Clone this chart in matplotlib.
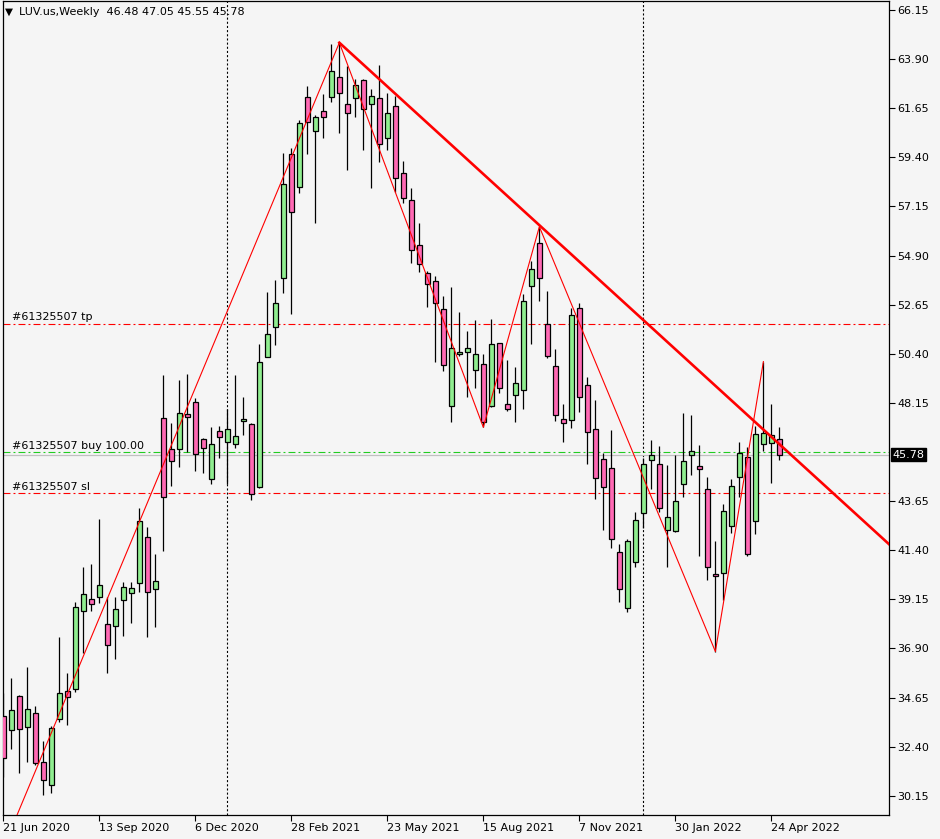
import matplotlib
matplotlib.use("Agg")
import matplotlib.pyplot as plt
from matplotlib.patches import Rectangle
import matplotlib.transforms as mtransforms

plt.rcParams['font.family'] = ['DejaVu Sans']
plt.rcParams['lines.scale_dashes'] = False

# weekly bars, LUV.us, starting 21 Jun 2020
opens = [33.81, 33.15, 34.73, 33.29, 33.93, 31.70, 30.64, 33.66, 34.95, 35.03,
         38.61, 39.17, 39.27, 38.01, 37.92, 39.11, 39.43, 39.92, 42.00, 39.61,
         47.45, 46.03, 46.03, 47.63, 48.18, 46.48, 44.65, 46.86, 46.37, 46.26,
         47.31, 47.19, 44.31, 50.27, 51.64, 53.86, 59.55, 58.03, 62.15, 60.62,
         61.52, 62.18, 63.07, 61.84, 62.13, 62.94, 61.86, 62.11, 60.30, 61.75,
         58.67, 57.45, 55.37, 54.09, 53.74, 52.44, 48.00, 50.38, 50.47, 49.66,
         49.92, 48.00, 50.88, 48.09, 48.50, 48.73, 53.51, 55.46, 51.75, 49.83,
         47.40, 47.35, 52.49, 48.96, 46.94, 45.57, 45.16, 41.31, 38.74, 40.85,
         43.09, 45.52, 45.34, 42.32, 42.27, 44.42, 45.75, 45.25, 44.19, 40.30,
         40.35, 42.50, 44.74, 45.66, 42.73, 46.26, 46.30, 46.48]
highs = [34.85, 35.56, 34.76, 36.07, 34.27, 32.66, 33.37, 37.44, 35.79, 39.05,
         40.65, 40.77, 42.83, 39.27, 39.27, 39.93, 39.93, 43.32, 42.45, 41.23,
         49.43, 47.22, 49.20, 49.48, 48.36, 46.53, 47.03, 47.09, 47.86, 49.43,
         48.44, 47.25, 50.85, 53.22, 53.78, 59.59, 59.81, 61.11, 62.67, 61.34,
         62.30, 64.59, 64.65, 63.58, 62.98, 62.98, 62.52, 63.63, 62.36, 62.21,
         59.23, 57.98, 56.41, 54.19, 53.97, 53.05, 53.47, 52.32, 51.45, 51.95,
         50.39, 52.00, 50.90, 50.12, 49.80, 53.14, 54.65, 56.22, 53.28, 50.62,
         48.10, 52.49, 52.74, 49.32, 48.28, 45.87, 46.91, 41.67, 41.92, 43.14,
         45.61, 46.45, 46.18, 45.31, 45.77, 47.70, 47.60, 46.22, 44.77, 41.83,
         43.51, 44.67, 46.35, 46.15, 47.09, 50.04, 48.10, 47.05]
lows = [31.00, 32.30, 31.21, 31.72, 31.56, 30.19, 30.27, 33.52, 33.41, 34.92,
        36.68, 38.63, 38.97, 35.77, 36.41, 37.47, 38.08, 39.50, 37.44, 37.90,
        41.38, 44.35, 45.23, 45.92, 45.05, 44.93, 44.44, 45.61, 44.44, 46.07,
        46.68, 43.70, 44.24, 50.24, 50.80, 53.20, 52.22, 57.78, 59.55, 56.41,
        60.30, 61.95, 60.53, 58.82, 61.23, 59.74, 58.01, 59.20, 59.74, 57.83,
        57.32, 54.57, 54.16, 52.56, 50.04, 49.63, 47.29, 50.31, 48.44, 48.85,
        47.03, 47.98, 48.62, 47.79, 47.29, 47.86, 50.84, 52.83, 50.22, 47.34,
        46.37, 47.02, 47.75, 45.34, 43.76, 42.34, 41.52, 39.05, 38.59, 40.65,
        42.43, 44.22, 43.17, 40.62, 42.22, 43.86, 44.86, 41.15, 40.04, 36.76,
        39.12, 42.21, 43.86, 41.15, 42.13, 45.95, 44.50, 45.55]
closes = [31.87, 34.07, 33.20, 34.12, 31.64, 30.86, 33.25, 34.85, 34.67, 38.79,
          39.40, 38.93, 39.81, 37.05, 38.70, 39.70, 39.66, 42.76, 39.50, 39.98,
          43.86, 45.48, 47.68, 47.52, 45.80, 46.07, 46.26, 46.60, 46.94, 46.62,
          47.41, 43.96, 50.01, 51.29, 52.71, 58.18, 56.91, 60.96, 61.03, 61.23,
          61.26, 63.36, 62.33, 61.45, 62.71, 61.60, 62.21, 60.00, 61.42, 58.47,
          57.52, 55.16, 54.50, 53.58, 52.74, 49.87, 50.65, 50.48, 50.65, 50.38,
          47.29, 50.84, 48.82, 47.86, 49.05, 52.81, 54.27, 53.86, 50.29, 47.58,
          47.22, 52.16, 48.41, 46.81, 44.70, 44.29, 41.90, 39.61, 41.81, 42.77,
          45.34, 45.75, 43.35, 42.91, 43.64, 45.48, 45.93, 45.12, 40.65, 40.21,
          43.19, 44.35, 45.84, 41.22, 46.71, 46.76, 46.68, 45.78]

date_ticks = [0, 12, 24, 36, 48, 60, 72, 84, 96]
date_labels = ["21 Jun 2020", "13 Sep 2020", "6 Dec 2020", "28 Feb 2021", "23 May 2021",
               "15 Aug 2021", "7 Nov 2021", "30 Jan 2022", "24 Apr 2022"]
year_breaks = [28, 80]
# 45.90 is covered by the current price box, so it is left out
price_ticks = [30.15, 32.40, 34.65, 36.90, 39.15, 41.40, 43.65, 48.15,
               50.40, 52.65, 54.90, 57.15, 59.40, 61.65, 63.90, 66.15]

# zigzag turning points (bar, price)
zz_bars = [-6, 42, 60, 67, 89, 95]
zz_prices = [22.49, 64.65, 47.03, 56.22, 36.76, 50.04]
# trend line through two highs
tl_bars = [42, 67]
tl_prices = [64.65, 56.29]

order_id = "#61325507"
tp_level = 51.77
buy_level = 45.89
sl_level = 44.01
last_price = 45.78

bg = "#f5f5f5"
bull = "#90ee90"
bear = "#ff69b4"

fig = plt.figure(figsize=(9.4, 8.39), dpi=100, facecolor=bg)
ax = fig.add_axes([2.5 / 940, 24 / 839, 886.5 / 940, 814 / 839], facecolor=bg)

ax.set_xlim(-0.1, 110.7)
ax.set_ylim(29.27, 66.56)

# grid separators (year starts)
for b in year_breaks:
    ax.axvline(b, color="black", lw=0.8, ls=(0, (1.5, 1.5)), zorder=1)

# order lines
dashdot = (0, (5, 2.2, 1.4, 2.2))
ax.axhline(last_price, color="#c0c0c0", lw=0.9, zorder=1)
ax.axhline(tp_level, color="red", lw=0.8, ls=dashdot, zorder=1)
ax.axhline(buy_level, color="#22cc22", lw=0.8, ls=dashdot, zorder=1)
ax.axhline(sl_level, color="red", lw=0.8, ls=dashdot, zorder=1)
off = mtransforms.offset_copy(ax.transData, fig=fig, y=1, units="points")
for lvl, txt in [(tp_level, " tp"), (buy_level, " buy 100.00"), (sl_level, " sl")]:
    ax.text(1.05, lvl, order_id + txt, fontsize=8, color="black",
            va="bottom", ha="left", transform=off, zorder=3)

# candles
for i in range(len(opens)):
    o, h, l, c = opens[i], highs[i], lows[i], closes[i]
    ax.plot([i, i], [l, h], color="black", lw=0.9, zorder=2, solid_capstyle="butt")
    lo, hi = min(o, c), max(o, c)
    ax.add_patch(Rectangle((i - 0.28, lo), 0.56, max(hi - lo, 0.06),
                           facecolor=bull if c >= o else bear,
                           edgecolor="black", lw=0.9, zorder=3))

# zigzag and trend line
ax.plot(zz_bars, zz_prices, color="red", lw=0.8, zorder=4)
slope = (tl_prices[1] - tl_prices[0]) / (tl_bars[1] - tl_bars[0])
x_end = 120
ax.plot([tl_bars[0], x_end], [tl_prices[0], tl_prices[0] + slope * (x_end - tl_bars[0])],
        color="red", lw=1.9, zorder=4)

# axes styling
for s in ax.spines.values():
    s.set_color("black")
    s.set_linewidth(0.9)
ax.yaxis.tick_right()
ax.set_yticks(price_ticks)
ax.set_yticklabels([f"{p:.2f}" for p in price_ticks])
ax.tick_params(axis="y", direction="out", length=4, width=0.8, pad=2, labelsize=8)
ax.set_xticks(date_ticks)
ax.set_xticklabels(date_labels)
ax.tick_params(axis="x", direction="out", length=4, width=0.8, pad=2, labelsize=8)
for lab in ax.get_xticklabels():
    lab.set_horizontalalignment("left")

# current price marker on the scale
ax.text(1.004, last_price, f"{last_price:.2f}", transform=ax.get_yaxis_transform(),
        fontsize=8, color="white", va="center", ha="left",
        bbox=dict(boxstyle="square,pad=0.15", facecolor="black", edgecolor="black"))

# header
fig.text(5 / 940, 1 - 12 / 839, "\u25bc", fontsize=7.5, va="center", ha="left")
fig.text(19 / 940, 1 - 12 / 839,
         f"LUV.us,Weekly  {opens[-1]:.2f} {highs[-1]:.2f} {lows[-1]:.2f} {closes[-1]:.2f}",
         fontsize=8, va="center", ha="left")

fig.savefig("out.png", dpi=100, facecolor=bg)
